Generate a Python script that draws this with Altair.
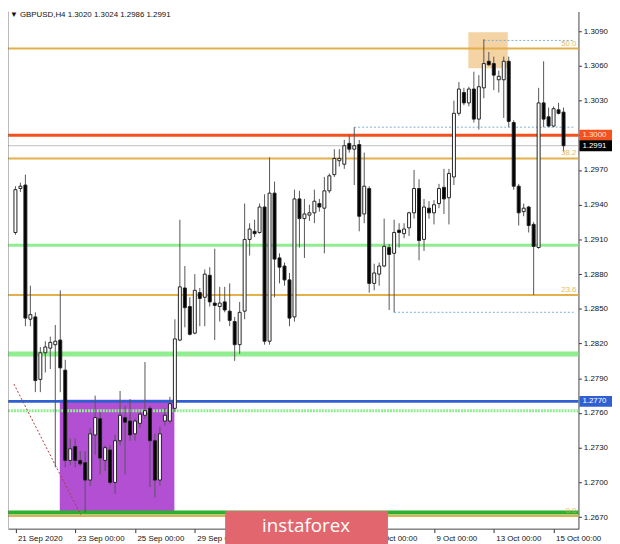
import altair as alt
import pandas as pd

# ---------------- data ----------------
opens = [1.2916, 1.2954, 1.2957, 1.2841, 1.2843, 1.2789, 1.2812, 1.2816, 1.2819, 1.2823,
         1.2797, 1.2719, 1.2731, 1.2719, 1.2717, 1.2702, 1.2741, 1.2755, 1.2719, 1.2728,
         1.2700, 1.2736, 1.2756, 1.2753, 1.2742, 1.2751, 1.2758, 1.2764, 1.2736, 1.2702,
         1.2753, 1.2753, 1.2764, 1.2823, 1.2868, 1.2852, 1.2829, 1.2864, 1.2860, 1.2879,
         1.2855, 1.2852, 1.2856, 1.2848, 1.2839, 1.2819, 1.2848, 1.2910, 1.2917, 1.2916,
         1.2938, 1.2822, 1.2950, 1.2894, 1.2887, 1.2875, 1.2843, 1.2945, 1.2928, 1.2931,
         1.2933, 1.2941, 1.2937, 1.2952, 1.2966, 1.2978, 1.2975, 1.2993, 1.2988, 1.2992,
         1.2932, 1.2954, 1.2872, 1.2880, 1.2887, 1.2903, 1.2898, 1.2918, 1.2915, 1.2920,
         1.2933, 1.2954, 1.2910, 1.2937, 1.2933, 1.2941, 1.2955, 1.2946, 1.2964, 1.3019,
         1.3037, 1.3028, 1.3040, 1.3014, 1.3041, 1.3064, 1.3062, 1.3048, 1.3048, 1.3064,
         1.3011, 1.2956, 1.2934, 1.2938, 1.2923, 1.2903, 1.3028, 1.3016, 1.3008, 1.3022,
         1.3020]
highs = [1.2956, 1.2959, 1.2966, 1.2870, 1.2847, 1.2817, 1.2822, 1.2826, 1.2836, 1.2866,
         1.2806, 1.2738, 1.2738, 1.2727, 1.2727, 1.2747, 1.2775, 1.2761, 1.2732, 1.2732,
         1.2741, 1.2779, 1.2766, 1.2772, 1.2755, 1.2761, 1.2804, 1.2766, 1.2742, 1.2748,
         1.2764, 1.2774, 1.2841, 1.2927, 1.2887, 1.2860, 1.2880, 1.2868, 1.2884, 1.2886,
         1.2902, 1.2869, 1.2869, 1.2872, 1.2843, 1.2856, 1.2941, 1.2924, 1.2927, 1.2941,
         1.2949, 1.2981, 1.2960, 1.2898, 1.2890, 1.2881, 1.2953, 1.2952, 1.2945, 1.2940,
         1.2953, 1.2945, 1.2964, 1.2967, 1.2988, 1.2988, 1.2996, 1.3000, 1.3007, 1.2996,
         1.2985, 1.2956, 1.2889, 1.2890, 1.2928, 1.2906, 1.2927, 1.2924, 1.2924, 1.2934,
         1.2970, 1.2962, 1.2945, 1.2943, 1.2944, 1.2958, 1.2971, 1.2971, 1.3030, 1.3046,
         1.3041, 1.3042, 1.3055, 1.3052, 1.3083, 1.3072, 1.3068, 1.3056, 1.3068, 1.3068,
         1.3013, 1.2958, 1.2941, 1.2939, 1.2925, 1.3041, 1.3064, 1.3024, 1.3025, 1.3028,
         1.3024]
lows = [1.2914, 1.2951, 1.2835, 1.2835, 1.2778, 1.2778, 1.2795, 1.2798, 1.2713, 1.2778,
        1.2713, 1.2715, 1.2713, 1.2714, 1.2674, 1.2697, 1.2724, 1.2707, 1.2710, 1.2698,
        1.2690, 1.2732, 1.2707, 1.2736, 1.2736, 1.2747, 1.2755, 1.2696, 1.2687, 1.2697,
        1.2749, 1.2751, 1.2761, 1.2822, 1.2834, 1.2827, 1.2828, 1.2835, 1.2835, 1.2852,
        1.2823, 1.2839, 1.2847, 1.2835, 1.2805, 1.2811, 1.2841, 1.2896, 1.2912, 1.2915,
        1.2819, 1.2819, 1.2860, 1.2872, 1.2870, 1.2835, 1.2839, 1.2903, 1.2894, 1.2926,
        1.2924, 1.2934, 1.2898, 1.2950, 1.2964, 1.2973, 1.2971, 1.2985, 1.2957, 1.2917,
        1.2924, 1.2864, 1.2866, 1.2870, 1.2886, 1.2849, 1.2847, 1.2903, 1.2911, 1.2913,
        1.2928, 1.2892, 1.2900, 1.2928, 1.2923, 1.2937, 1.2932, 1.2923, 1.2957, 1.3017,
        1.3026, 1.3025, 1.3011, 1.3005, 1.3032, 1.3060, 1.3039, 1.3037, 1.3015, 1.3007,
        1.2953, 1.2922, 1.2930, 1.2916, 1.2862, 1.2902, 1.3007, 1.3007, 1.3007, 1.3018,
        1.2986]
closes = [1.2953, 1.2956, 1.2842, 1.2845, 1.2788, 1.2812, 1.2817, 1.2821, 1.2822, 1.2799,
          1.2719, 1.2729, 1.2719, 1.2716, 1.2702, 1.2742, 1.2756, 1.2721, 1.2730, 1.2700,
          1.2736, 1.2758, 1.2752, 1.2741, 1.2753, 1.2759, 1.2762, 1.2736, 1.2702, 1.2742,
          1.2758, 1.2768, 1.2824, 1.2869, 1.2851, 1.2828, 1.2866, 1.2859, 1.2880, 1.2856,
          1.2853, 1.2855, 1.2849, 1.2840, 1.2819, 1.2847, 1.2910, 1.2919, 1.2915, 1.2938,
          1.2822, 1.2950, 1.2893, 1.2886, 1.2875, 1.2842, 1.2945, 1.2928, 1.2932, 1.2933,
          1.2943, 1.2938, 1.2952, 1.2965, 1.2980, 1.2980, 1.2991, 1.2988, 1.2991, 1.2930,
          1.2956, 1.2872, 1.2881, 1.2887, 1.2904, 1.2897, 1.2916, 1.2916, 1.2919, 1.2933,
          1.2954, 1.2909, 1.2938, 1.2933, 1.2940, 1.2954, 1.2945, 1.2967, 1.3019, 1.3040,
          1.3028, 1.3040, 1.3014, 1.3042, 1.3062, 1.3061, 1.3052, 1.3051, 1.3064, 1.3012,
          1.2956, 1.2933, 1.2937, 1.2922, 1.2904, 1.3028, 1.3014, 1.3008, 1.3023, 1.3019,
          1.2991]
bar_index = list(range(len(opens)))

# date labels every 12 bars (6 H4 bars a day); 1 Oct and 5 Oct sit under the watermark
date_ticks = [0, 12, 24, 36, 72, 84, 96, 108]
date_labels = ["21 Sep 2020", "23 Sep 00:00", "25 Sep 00:00", "29 Sep 00:00", "1 Oct 00:00",
               "5 Oct 00:00", "7 Oct 00:00", "9 Oct 00:00", "13 Oct 00:00", "15 Oct 00:00"]
price_ticks = [1.2670, 1.2700, 1.2730, 1.2760, 1.2790, 1.2820, 1.2850, 1.2880,
               1.2910, 1.2940, 1.2970, 1.3000, 1.3030, 1.3060, 1.3090]

fib_levels = [1.3075, 1.2980, 1.2862, 1.2671]
fib_names = ["50.0", "38.2", "23.6", "0.0"]

solid_levels = [1.2905, 1.2811, 1.2674, 1.2770, 1.3000, 1.2991]
solid_colors = ["#90EE90", "#90EE90", "#2DB02D", "#2F5FD0", "#F4511E", "#BDBDBD"]
solid_widths = [3, 5, 4, 3, 3, 1]

dashed_green_level = [1.2762]

marker_levels = [1.3082, 1.3007, 1.2847]
marker_start = [94, 68, 76]
marker_end = [112, 112, 112]

zone_x0 = [8.9, 90.9]
zone_x1 = [31.9, 98.8]
zone_y0 = [1.27715, 1.3089]
zone_y1 = [1.26726, 1.3058]
zone_colors = ["#B24FD3", "#F4D3A5"]

diag_x = [-0.3, 13.1]
diag_y = [1.2785, 1.2672]

box_prices = [1.3000, 1.2991, 1.2770]
box_labels = ["1.3000", "1.2991", "1.2770"]
box_colors = ["#F4511E", "#000000", "#2F5FD0"]
box_text_colors = ["#FFE6D8", "#FFFFFF", "#FFFFFF"]

title_text = "\u25BC GBPUSD,H4  1.3020 1.3024 1.2986 1.2991"

# ---------------- chart ----------------
W, H = 578, 524
FONT = "Liberation Sans"
xs = alt.Scale(domain=[-0.5, 112], nice=False, zero=False)
ys = alt.Scale(domain=[1.2660, 1.3107], nice=False, zero=False)

label_js = "[" + ",".join("'%s'" % s for s in date_labels) + "][round(datum.value/12)]"
x_axis = alt.Axis(values=date_ticks, labelExpr=label_js, labelAlign="left", labelBaseline="top",
                  labelPadding=2, labelOffset=2, tickSize=4, tickColor="#333", domainColor="#444",
                  labelFontSize=8, labelFont=FONT, labelColor="#111", grid=False, title=None,
                  labelFlush=False, labelOverlap=False)
y_axis = alt.Axis(orient="right", values=price_ticks, format=".4f", tickSize=3, tickColor="#333",
                  domainColor="#444", labelPadding=2, labelFontSize=8, labelFont=FONT,
                  labelColor="#111", grid=False, title=None, labelOverlap=False, labelFlush=False)


def X(f):
    return alt.X(f, scale=xs, axis=x_axis)


def Y(f):
    return alt.Y(f, scale=ys, axis=y_axis)


candles = pd.DataFrame({"i": bar_index, "open": opens, "high": highs, "low": lows, "close": closes})
zones = pd.DataFrame({"x0": zone_x0, "x1": zone_x1, "y0": zone_y0, "y1": zone_y1, "c": zone_colors})
solid = pd.DataFrame({"p": solid_levels, "c": solid_colors, "w": solid_widths})
fib = pd.DataFrame({"p": fib_levels, "t": fib_names})
markers = pd.DataFrame({"p": marker_levels, "s": marker_start, "e": marker_end})
diag = pd.DataFrame({"x": diag_x, "y": diag_y})
boxes = pd.DataFrame({"p": box_prices, "t": box_labels, "c": box_colors, "tc": box_text_colors})
boxes["top"] = boxes["p"] + 0.00047
boxes["bot"] = boxes["p"] - 0.00047

zone_layer = alt.Chart(zones).mark_rect().encode(
    x=X("x0:Q"), x2="x1:Q", y=Y("y0:Q"), y2="y1:Q",
    color=alt.Color("c:N", scale=None, legend=None))

fib_lines = alt.Chart(fib).mark_rule(color="#E3B04B", strokeWidth=2).encode(y=Y("p:Q"))

solid_lines = alt.Chart(solid).mark_rule().encode(
    y=Y("p:Q"), color=alt.Color("c:N", scale=None, legend=None),
    strokeWidth=alt.StrokeWidth("w:Q", scale=None, legend=None))

green_dash = alt.Chart(pd.DataFrame({"p": dashed_green_level})).mark_rule(
    color="#90EE90", strokeWidth=3, strokeDash=[2, 1]).encode(y=Y("p:Q"))

marker_lines = alt.Chart(markers).mark_rule(color="#7FAFD6", strokeWidth=1, strokeDash=[2, 2]).encode(
    x=X("s:Q"), x2="e:Q", y=Y("p:Q"))

diag_line = alt.Chart(diag).mark_line(color="#B03A3A", strokeWidth=1, strokeDash=[2, 2]).encode(
    x=X("x:Q"), y=Y("y:Q"))

wicks = alt.Chart(candles).mark_rule(color="#555555", strokeWidth=1).encode(
    x=X("i:Q"), y=Y("low:Q"), y2="high:Q")

bodies = alt.Chart(candles).mark_bar(size=3, stroke="#222222", strokeWidth=1).encode(
    x=X("i:Q"), y=Y("open:Q"), y2="close:Q",
    fill=alt.condition("datum.close >= datum.open", alt.value("#FFFFFF"), alt.value("#000000")))

fib_text = alt.Chart(fib).mark_text(align="right", baseline="bottom", dy=-1, fontSize=8, font=FONT,
                                    color="#E3B04B", opacity=0.85).encode(
    x=alt.value(576), y=Y("p:Q"), text="t:N")

box_rect = alt.Chart(boxes).mark_rect().encode(
    x=alt.value(579), x2=alt.value(612), y=Y("top:Q"), y2="bot:Q",
    color=alt.Color("c:N", scale=None, legend=None))

box_text = alt.Chart(boxes).mark_text(align="left", baseline="middle", fontSize=8, font=FONT).encode(
    x=alt.value(582), y=Y("p:Q"), text="t:N",
    color=alt.Color("tc:N", scale=None, legend=None))

title = alt.Chart(pd.DataFrame({"t": [title_text]})).mark_text(
    align="left", baseline="top", fontSize=8, font=FONT, color="#111").encode(
    x=alt.value(2), y=alt.value(0), text="t:N")

left_border = alt.Chart(pd.DataFrame({"a": [0]})).mark_rule(color="#777", strokeWidth=1).encode(
    x=alt.value(0), y=alt.value(0), y2=alt.value(H))

wm_rect = alt.Chart(pd.DataFrame({"a": [0]})).mark_rect(color="#E2666E").encode(
    x=alt.value(220), x2=alt.value(385), y=alt.value(506), y2=alt.value(540))

wm_text = alt.Chart(pd.DataFrame({"t": ["instaforex"]})).mark_text(
    align="center", baseline="middle", fontSize=19, font="Open Sans", color="#FFFFFF").encode(
    x=alt.value(302), y=alt.value(521), text="t:N")

chart = alt.layer(
    zone_layer, fib_lines, solid_lines, green_dash, marker_lines, diag_line,
    wicks, bodies, fib_text, box_rect, box_text, title, left_border, wm_rect, wm_text
).properties(
    width=W, height=H,
    autosize=alt.AutoSizeParams(type="none"),
    padding={"left": 0, "top": 0, "right": 34, "bottom": 12},
    background="#FFFFFF"
).configure_view(stroke=None)

chart.save("out.html", embed_options={"renderer": "svg", "actions": False})
